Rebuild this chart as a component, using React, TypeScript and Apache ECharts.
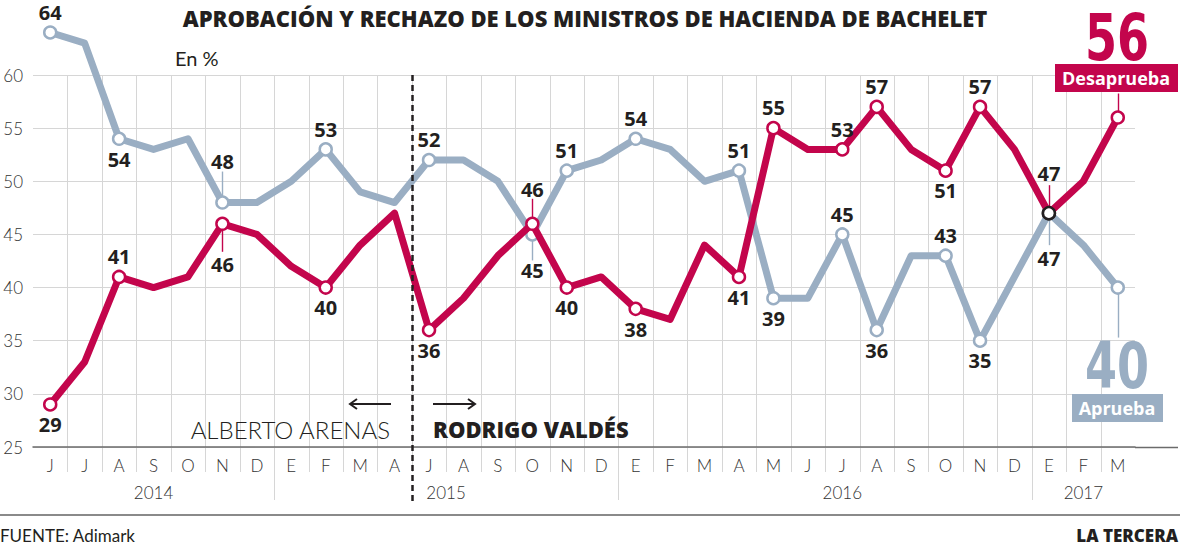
import React, { useEffect, useRef } from 'react';
import * as echarts from 'echarts';

// ---------- data ----------
const months = ['J', 'J', 'A', 'S', 'O', 'N', 'D', 'E', 'F', 'M', 'A', 'J', 'A', 'S', 'O', 'N', 'D', 'E', 'F', 'M', 'A', 'M', 'J', 'J', 'A', 'S', 'O', 'N', 'D', 'E', 'F', 'M'];
const years = ['2014', '2015', '2016', '2017'];
const yearLabelIndex = [3, 11, 23, 30];
const yearStartIndex = [7, 17, 29];
const ministerChangeIndex = 11;
const aprueba = [64, 63, 54, 53, 54, 48, 48, 50, 53, 49, 48, 52, 52, 50, 45, 51, 52, 54, 53, 50, 51, 39, 39, 45, 36, 43, 43, 35, 41, 47, 44, 40];
const desaprueba = [29, 33, 41, 40, 41, 46, 45, 42, 40, 44, 47, 36, 39, 43, 46, 40, 41, 38, 37, 44, 41, 55, 53, 53, 57, 53, 51, 57, 53, 47, 50, 56];
const yMin = 25;
const yMax = 60;
const yStep = 5;

// ---------- styling ----------
const RED = '#c3054c';
const BLUE = '#9aaec3';
const INK = '#231f20';
const GRID = '#d6d6d6';
const FONT = 'Lato';
const HEAVY = 'Open Sans';

// which points get a hollow marker and where their value label sits
const aprPlacement: Record<number, string> = { 0: 'top', 2: 'bottom', 5: 'top', 8: 'top', 11: 'top', 14: 'bottom', 15: 'top', 17: 'top', 20: 'top', 21: 'bottom', 23: 'top', 24: 'bottom', 26: 'top', 27: 'bottom', 29: 'bottom', 31: 'none' };
const desPlacement: Record<number, string> = { 0: 'bottom', 2: 'top', 5: 'bottom', 8: 'bottom', 11: 'bottom', 14: 'top', 15: 'bottom', 17: 'bottom', 20: 'bottom', 21: 'top', 23: 'top', 24: 'top', 26: 'bottom', 27: 'top', 29: 'top', 31: 'none' };
const aprDistance: Record<number, number> = { 5: 24, 14: 19, 29: 28 };
const desDistance: Record<number, number> = { 5: 23, 14: 17, 29: 22 };
// leader lines: index, direction (1 up, -1 down), length in px
const aprLeaders = [{ i: 5, dir: 1, len: 25 }, { i: 14, dir: -1, len: 20 }, { i: 29, dir: -1, len: 26 }, { i: 31, dir: -1, len: 44 }];
const desLeaders = [{ i: 5, dir: -1, len: 22 }, { i: 14, dir: 1, len: 19 }, { i: 29, dir: 1, len: 22 }, { i: 31, dir: 1, len: 18 }];

function buildData(values: number[], placement: Record<number, string>, distance: Record<number, number>) {
  return values.map((v, i) => {
    const pos = placement[i];
    const marked = pos !== undefined;
    const item: any = {
      value: v,
      symbol: marked ? 'circle' : 'none',
      symbolSize: 12,
    };
    if (i === 29) item.itemStyle = { borderColor: INK };
    if (marked && pos !== 'none') {
      item.label = { show: true, position: pos, distance: distance[i] ?? 3 };
    } else {
      item.label = { show: false };
    }
    return item;
  });
}

function leaderSeries(values: number[], leaders: { i: number; dir: number; len: number }[], color: string) {
  return {
    type: 'custom',
    silent: true,
    clip: false,
    z: 1,
    encode: { x: 0, y: 1 },
    data: leaders.map((l) => [l.i, values[l.i], l.dir, l.len]),
    renderItem: (params: any, api: any) => {
      const p = api.coord([api.value(0), api.value(1)]);
      const dir = api.value(2);
      const len = api.value(3);
      const x = Math.round(p[0]) + 0.5;
      return {
        type: 'line',
        shape: { x1: x, y1: p[1] - dir * 6, x2: x, y2: p[1] - dir * (6 + len) },
        style: { stroke: color, lineWidth: 1.4 },
      };
    },
  };
}

export default function App() {
  const ref = useRef<HTMLDivElement>(null);

  useEffect(() => {
    document.body.style.margin = '0';
    if (!ref.current) return;
    const chart = echarts.init(ref.current, undefined, { renderer: 'svg' });

    const lineLabel = { fontFamily: HEAVY, fontWeight: 700, fontSize: 20, color: INK };
    const G = 100;

    const option: any = {
      animation: false,
      textStyle: { fontFamily: FONT },
      grid: { left: 33, right: 45, top: 75, bottom: 98, containLabel: false },
      xAxis: [
        {
          type: 'category',
          data: months,
          boundaryGap: true,
          position: 'bottom',
          axisLine: { show: true, lineStyle: { color: '#6b6b6b', width: 1.5 } },
          axisTick: { show: false },
          splitLine: { show: false },
          axisLabel: { margin: 10, fontSize: 17, fontWeight: 300, fontFamily: FONT, color: '#333', interval: 0 },
        },
        {
          type: 'category',
          data: months,
          boundaryGap: true,
          position: 'bottom',
          axisLine: { show: false },
          axisTick: { show: false },
          splitLine: { show: false },
          axisLabel: {
            margin: 37,
            fontSize: 17,
            fontWeight: 300,
            fontFamily: FONT,
            color: '#333',
            interval: (i: number) => yearLabelIndex.includes(i),
            formatter: (_v: string, i: number) => {
              const k = yearLabelIndex.indexOf(i);
              if (k < 0) return '';
              return i === ministerChangeIndex ? `{shift|${years[k]}}` : years[k];
            },
            rich: {
              shift: { padding: [0, 0, 0, 34], fontSize: 17, fontWeight: 300, fontFamily: FONT, color: '#333' },
            },
          },
        },
      ],
      yAxis: {
        type: 'value',
        min: yMin,
        max: yMax,
        interval: yStep,
        axisLine: { show: false },
        axisTick: { show: false },
        axisLabel: { margin: 10, fontSize: 17, fontWeight: 300, fontFamily: FONT, color: '#333' },
        splitLine: { show: true, lineStyle: { color: GRID, width: 1 } },
      },
      series: [
        {
          // month boundaries: grid lines that continue below the axis as ticks
          type: 'custom',
          silent: true,
          clip: false,
          z: 0,
          encode: { x: 0, y: 1 },
          data: months.slice(1).map((_m, k) => [k + 1, yMax]),
          renderItem: (params: any, api: any) => {
            const idx = api.value(0);
            const top = api.coord([idx, yMax]);
            const bottom = api.coord([idx, yMin]);
            const bw = api.size([1, 0])[0];
            const x = Math.round(top[0] - bw / 2) + 0.5;
            const ext = yearStartIndex.includes(idx) ? 53 : 25;
            return {
              type: 'line',
              shape: { x1: x, y1: top[1], x2: x, y2: bottom[1] + ext },
              style: { stroke: GRID, lineWidth: 1 },
            };
          },
        },
        leaderSeries(aprueba, aprLeaders, BLUE),
        leaderSeries(desaprueba, desLeaders, RED),
        {
          name: 'Aprueba',
          type: 'line',
          data: buildData(aprueba, aprPlacement, aprDistance),
          symbol: 'none',
          showSymbol: true,
          clip: false,
          z: 3,
          silent: true,
          lineStyle: { color: BLUE, width: 7, join: 'round' },
          itemStyle: { color: '#fff', borderColor: BLUE, borderWidth: 2.5 },
          label: lineLabel,
          emphasis: { disabled: true },
        },
        {
          name: 'Desaprueba',
          type: 'line',
          data: buildData(desaprueba, desPlacement, desDistance),
          symbol: 'none',
          showSymbol: true,
          clip: false,
          z: 4,
          silent: true,
          lineStyle: { color: RED, width: 7, join: 'round' },
          itemStyle: { color: '#fff', borderColor: RED, borderWidth: 2.5 },
          label: lineLabel,
          emphasis: { disabled: true },
        },
        {
          // change of minister
          type: 'custom',
          silent: true,
          clip: false,
          z: 6,
          encode: { x: 0, y: 1 },
          data: [[ministerChangeIndex, yMax]],
          renderItem: (params: any, api: any) => {
            const idx = api.value(0);
            const top = api.coord([idx, yMax]);
            const bottom = api.coord([idx, yMin]);
            const bw = api.size([1, 0])[0];
            const x = Math.round(top[0] - bw / 2) + 0.5;
            return {
              type: 'line',
              shape: { x1: x, y1: top[1], x2: x, y2: bottom[1] + 58 },
              style: { stroke: INK, lineWidth: 2.5, lineDash: [6, 4] },
            };
          },
        },
      ],
      graphic: [
        { type: 'text', z: G, x: 585, y: 18, style: { text: 'APROBACIÓN Y RECHAZO DE LOS MINISTROS DE HACIENDA DE BACHELET', fill: INK, fontFamily: HEAVY, fontWeight: 800, fontSize: 22, align: 'center', verticalAlign: 'middle' } },
        { type: 'text', z: G, x: 175, y: 58, style: { text: 'En %', fill: INK, fontFamily: FONT, fontWeight: 400, fontSize: 20, align: 'left', verticalAlign: 'middle' } },
        { type: 'text', z: G, x: 390, y: 429, style: { text: 'ALBERTO ARENAS', fill: INK, fontFamily: FONT, fontWeight: 300, fontSize: 24, align: 'right', verticalAlign: 'middle' } },
        { type: 'text', z: G, x: 433, y: 429, style: { text: 'RODRIGO VALDÉS', fill: INK, fontFamily: HEAVY, fontWeight: 800, fontSize: 22, align: 'left', verticalAlign: 'middle' } },
        { type: 'line', z: G, shape: { x1: 350, y1: 404, x2: 391, y2: 404 }, style: { stroke: INK, lineWidth: 2 } },
        { type: 'polyline', z: G, shape: { points: [[357, 399], [350, 404], [357, 409]] }, style: { stroke: INK, lineWidth: 2, fill: 'none' } },
        { type: 'line', z: G, shape: { x1: 433, y1: 404, x2: 475, y2: 404 }, style: { stroke: INK, lineWidth: 2 } },
        { type: 'polyline', z: G, shape: { points: [[468, 399], [475, 404], [468, 409]] }, style: { stroke: INK, lineWidth: 2, fill: 'none' } },
        { type: 'text', z: G, x: 1117, y: 38, scaleX: 0.72, style: { text: '56', fill: RED, fontFamily: 'DejaVu Sans', fontWeight: 'bold', fontSize: 64, align: 'center', verticalAlign: 'middle' } },
        { type: 'rect', z: G, shape: { x: 1055, y: 64, width: 123, height: 28 }, style: { fill: RED } },
        { type: 'text', z: G + 1, x: 1116, y: 78, style: { text: 'Desaprueba', fill: '#fff', fontFamily: HEAVY, fontWeight: 700, fontSize: 18, align: 'center', verticalAlign: 'middle' } },
        { type: 'text', z: G, x: 1117, y: 366, scaleX: 0.72, style: { text: '40', fill: BLUE, fontFamily: 'DejaVu Sans', fontWeight: 'bold', fontSize: 64, align: 'center', verticalAlign: 'middle' } },
        { type: 'rect', z: G, shape: { x: 1072, y: 394, width: 91, height: 28 }, style: { fill: BLUE } },
        { type: 'text', z: G + 1, x: 1117, y: 408, style: { text: 'Aprueba', fill: '#fff', fontFamily: HEAVY, fontWeight: 700, fontSize: 18, align: 'center', verticalAlign: 'middle' } },
        { type: 'line', z: G, shape: { x1: 1135, y1: 447.5, x2: 1178, y2: 447.5 }, style: { stroke: '#6b6b6b', lineWidth: 1.5 } },
        { type: 'line', z: G, shape: { x1: 0, y1: 515, x2: 1180, y2: 515 }, style: { stroke: '#8a8a8a', lineWidth: 2 } },
        { type: 'text', z: G, x: 0, y: 535, style: { text: 'FUENTE: Adimark', fill: INK, fontFamily: FONT, fontWeight: 400, fontSize: 17, align: 'left', verticalAlign: 'middle' } },
        { type: 'text', z: G, x: 1178, y: 535, style: { text: 'LA TERCERA', fill: INK, fontFamily: HEAVY, fontWeight: 800, fontSize: 17, align: 'right', verticalAlign: 'middle' } },
      ],
    };

    chart.setOption(option);
    return () => chart.dispose();
  }, []);

  return <div ref={ref} style={{ width: 1180, height: 545 }} />;
}
